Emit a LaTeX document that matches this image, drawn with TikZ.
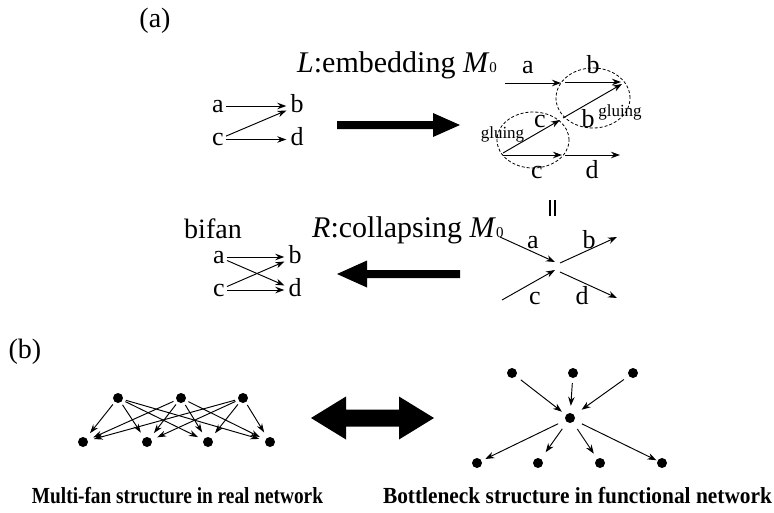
\documentclass[tikz,border=0pt]{standalone}
\usepackage{graphicx}
\usepackage{fontspec}
\setmainfont{Liberation Serif}
\usetikzlibrary{arrows.meta}
\begin{document}
\begin{tikzpicture}[x=1pt,y=-1pt,
  lbl/.style={font=\fontsize{26}{26}\selectfont, inner sep=2pt, text height=12pt, text depth=-3pt, anchor=base},
  smalltxt/.style={font=\fontsize{17}{17}\selectfont, inner sep=0pt, anchor=base},
  titletxt/.style={font=\fontsize{30}{30}\selectfont, inner sep=0pt, anchor=base west},
  panel/.style={font=\fontsize{28}{28}\selectfont, inner sep=0pt, anchor=base},
  arr/.style={-{Stealth[length=9pt,width=6.5pt]}, line width=0.95pt},
  glue/.style={dashed, dash pattern=on 3pt off 2pt, line width=0.8pt},
  dot/.style={circle, fill=black, inner sep=0pt, minimum size=10pt},
  captxt/.style={inner sep=0pt, anchor=base}
]
\useasboundingbox (0,0) rectangle (774,512);

% ---------- (a) ----------
\node[panel] (pa) at (155,27) {(a)};
\node[titletxt] (tL) at (297,72) {\textit{L}:embedding \textit{M}{\fontsize{15}{15}\selectfont 0}};

% left small graph
\node[lbl] (a1) at (218,112) {a};
\node[lbl] (b1) at (297,112) {b};
\node[lbl] (c1) at (218,145.5) {c};
\node[lbl] (d1) at (297,145.5) {d};
\draw[arr, shorten >=2pt] (a1) -- (b1);
\draw[arr, shorten >=2pt] (c1) -- (b1);
\draw[arr, shorten >=2pt] (c1) -- (d1);

% big right arrow
\fill (337,121) -- (433,121) -- (433,113) -- (460,125) -- (433,137) -- (433,129) -- (337,129) -- cycle;

% embedded structure
\coordinate (e1) at (505,83);  \coordinate (e2) at (561,83);
\coordinate (e3) at (565,82);  \coordinate (e4) at (621,82);
\coordinate (e5) at (503,153); \coordinate (e6) at (560,120);
\coordinate (e7) at (563,118); \coordinate (e8) at (622,84);
\coordinate (e9) at (503,155); \coordinate (e10) at (562,155);
\coordinate (e11) at (565,155);\coordinate (e12) at (620,155);
\draw[arr] (e1) -- (e2);
\draw[arr] (e3) -- (e4);
\draw[arr] (e5) -- (e6);
\draw[arr] (e7) -- (e8);
\draw[arr] (e9) -- (e10);
\draw[arr] (e11) -- (e12);
\draw[glue] (533,140) ellipse [x radius=36pt, y radius=28pt];
\draw[glue] (593,98) ellipse [x radius=37pt, y radius=30pt];
\node[lbl] (ea) at (528,73) {a};
\node[lbl] (eb) at (593,73) {b};
\node[lbl] (ec) at (540,127) {c};
\node[lbl] (eb2) at (588,127) {b};
\node[smalltxt] (g1) at (620,116) {gluing};
\node[smalltxt] (g2) at (502.5,138) {gluing};
\node[lbl] (ec2) at (537,178) {c};
\node[lbl] (ed) at (592,178) {d};

\node[inner sep=0pt] (eq) at (552,208) {\rule{2pt}{16pt}\hspace{3pt}\rule{2pt}{16pt}};

% bifan
\node[panel] (bifan) at (213,238) {bifan};
\node[titletxt] (tR) at (312,237) {\textit{R}:collapsing \textit{M}{\fontsize{15}{15}\selectfont 0}};
\node[lbl] (a2) at (219,263) {a};
\node[lbl] (b2) at (295,263) {b};
\node[lbl] (c2) at (219,296) {c};
\node[lbl] (d2) at (295,296) {d};
\draw[arr, shorten >=2pt] (a2) -- (b2);
\draw[arr, shorten >=2pt] (a2) -- (d2);
\draw[arr, shorten >=2pt] (c2) -- (b2);
\draw[arr, shorten >=2pt] (c2) -- (d2);

% big left arrow
\fill (337,274) -- (367,260.5) -- (367,270) -- (460,270) -- (460,278) -- (367,278) -- (367,287.5) -- cycle;

% collapsed X
\coordinate (x1) at (500,237); \coordinate (x2) at (555,262);
\coordinate (x3) at (502,300); \coordinate (x4) at (555,270);
\coordinate (x5) at (560,263); \coordinate (x6) at (617,237);
\coordinate (x7) at (560,272); \coordinate (x8) at (617,298);
\draw[arr] (x1) -- (x2);
\draw[arr] (x3) -- (x4);
\draw[arr] (x5) -- (x6);
\draw[arr] (x7) -- (x8);
\node[lbl] (xa) at (533,248) {a};
\node[lbl] (xb) at (589,248) {b};
\node[lbl] (xc) at (535,304) {c};
\node[lbl] (xd) at (582,304) {d};

% ---------- (b) ----------
\node[panel] (pb) at (25,358) {(b)};

% multi-fan
\node[dot] (t1) at (118,398) {};
\node[dot] (t2) at (181,398) {};
\node[dot] (t3) at (243,398) {};
\node[dot] (m1) at (83,442) {};
\node[dot] (m2) at (147,442) {};
\node[dot] (m3) at (208,442) {};
\node[dot] (m4) at (270,442) {};
\foreach \t in {t1,t2,t3}
  \foreach \m in {m1,m2,m3,m4}
    \draw[arr, -{Stealth[length=9pt,width=6pt]}, shorten <=3pt, shorten >=6pt] (\t) -- (\m);

% double arrow
\fill (311,418) -- (346,396.5) -- (346,409.5) -- (399,409.5) -- (399,396.5) -- (434,418)
  -- (399,439.5) -- (399,426.5) -- (346,426.5) -- (346,439.5) -- cycle;

% bottleneck
\node[dot] (u1) at (512,373) {};
\node[dot] (u2) at (573,373) {};
\node[dot] (u3) at (633,373) {};
\node[dot] (cc) at (570,418) {};
\node[dot] (l1) at (477,463) {};
\node[dot] (l2) at (538,463) {};
\node[dot] (l3) at (600,463) {};
\node[dot] (l4) at (662,463) {};
\draw[arr, shorten <=6pt, shorten >=5pt] (u1) -- (cc);
\draw[arr, shorten <=5pt, shorten >=7pt] (u2) -- (cc);
\draw[arr, shorten <=6pt, shorten >=9pt] (u3) -- (cc);
\draw[arr, shorten <=8pt, shorten >=4pt] (cc) -- (l1);
\draw[arr, shorten <=8pt, shorten >=8pt] (cc) -- (l2);
\draw[arr, shorten <=8pt, shorten >=6pt] (cc) -- (l3);
\draw[arr, shorten <=8pt, shorten >=1pt] (cc) -- (l4);

% captions
\node[captxt] (cap1) at (177.5,503) {\resizebox{291pt}{\height}{\fontsize{23}{23}\selectfont\bfseries Multi-fan structure in real network}};
\node[captxt] (cap2) at (577.5,503) {\resizebox{389pt}{\height}{\fontsize{23}{23}\selectfont\bfseries Bottleneck structure in functional network}};
\end{tikzpicture}
\end{document}
